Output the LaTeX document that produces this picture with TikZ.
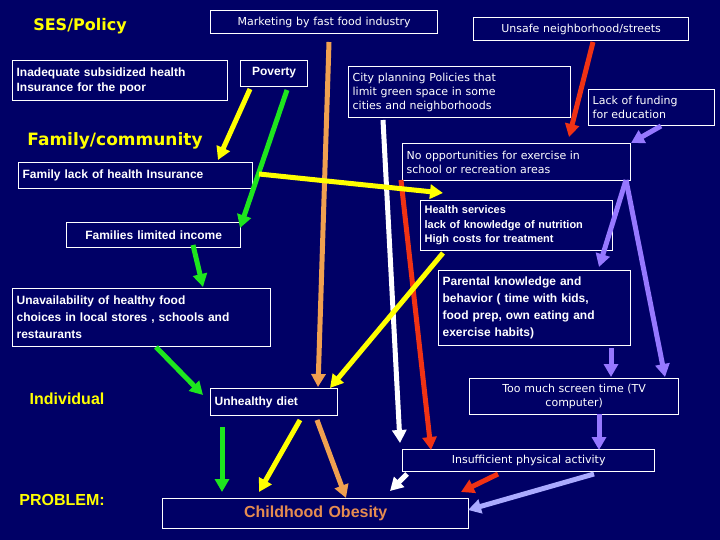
\documentclass[tikz,border=0pt]{standalone}
\usepackage{fontspec}
\setmainfont{Liberation Sans}
\newfontfamily\vfont{DejaVu Sans}
\usetikzlibrary{arrows.meta}
\definecolor{bg}{RGB}{0,0,102}
\definecolor{cyel}{RGB}{255,255,0}
\definecolor{cgrn}{RGB}{30,230,30}
\definecolor{corg}{RGB}{240,160,80}
\definecolor{cred}{RGB}{240,50,20}
\definecolor{cpur}{RGB}{150,120,255}
\definecolor{clpur}{RGB}{170,170,255}
\definecolor{ctit}{RGB}{230,140,80}
\tikzset{
 box/.style={draw=white, line width=1.3pt, text=white, anchor=north west, inner sep=4pt, align=left, font=\fontsize{12}{15}\selectfont\bfseries},
 vbox/.style={box, font=\vfont\fontsize{11}{14}\selectfont},
 lvl/.style={text=cyel, font=\bfseries\fontsize{16}{18}\selectfont},
 arr/.style={line width=5pt, -{Triangle[length=13pt,width=14pt]}},
}
\begin{document}
\begin{tikzpicture}[x=1pt,y=-1pt]
\fill[bg] (0,0) rectangle (720,540);
\useasboundingbox (0,0) rectangle (720,540);
% level labels
\node[lvl, font=\vfont\bfseries\fontsize{16}{18}\selectfont] (ses) at (80,26) {SES/Policy};
\node[lvl, font=\vfont\bfseries\fontsize{17}{19}\selectfont] (fam) at (115,141) {Family/community};
\node[lvl] (ind) at (67,399) {Individual};
\node[lvl] (prob) at (62,500) {PROBLEM:};
% boxes
\node[vbox, minimum width=227pt, minimum height=23pt, text width=219pt, align=center] (mkt) at (210,10) {Marketing by fast food industry};
\node[vbox, minimum width=215pt, minimum height=23pt, text width=207pt, align=center] (uns) at (473,17) {Unsafe neighborhood/streets};
\node[box, minimum width=215pt, minimum height=40pt, text width=207pt] (inad) at (12,60) {Inadequate subsidized health\\Insurance for the poor};
\node[box, minimum width=67pt, minimum height=26pt, text width=59pt, align=center] (pov) at (240,60) {\raisebox{4pt}{Poverty}};
\node[vbox, minimum width=222pt, minimum height=51pt, text width=214pt] (city) at (348,66) {City planning Policies that\\limit green space in some\\cities and neighborhoods};
\node[vbox, minimum width=126pt, minimum height=36pt, text width=118pt] (fund) at (588,89) {Lack of funding\\for education};
\node[vbox, minimum width=228pt, minimum height=37pt, text width=220pt] (noop) at (402,143) {\raisebox{4pt}{\parbox{220pt}{No opportunities for exercise in\\school or recreation areas}}};
\node[box, minimum width=234pt, minimum height=26pt, text width=226pt] (flack) at (18,162) {Family lack of health Insurance};
\node[box, minimum width=192pt, minimum height=50pt, text width=184pt, font=\fontsize{11}{14.5}\selectfont\bfseries] (hs) at (420,200) {Health services\\lack of knowledge of nutrition\\High costs for treatment};
\node[box, minimum width=174pt, minimum height=25pt, text width=166pt, align=center] (flim) at (66,222) {Families limited income};
\node[box, minimum width=192pt, minimum height=75pt, text width=184pt, font=\fontsize{12}{17}\selectfont\bfseries] (par) at (438,270) {Parental knowledge and\\behavior ( time with kids,\\food prep, own eating and\\exercise habits)};
\node[box, minimum width=258pt, minimum height=58pt, text width=250pt, font=\fontsize{12}{17}\selectfont\bfseries] (unav) at (12,288) {Unavailability of healthy food\\choices in local stores , schools and\\restaurants};
\node[box, minimum width=127pt, minimum height=27pt, text width=119pt] (diet) at (210,388) {Unhealthy diet};
\node[vbox, minimum width=209pt, minimum height=36pt, text width=201pt, align=center] (scr) at (469,378) {Too much screen time (TV\\computer)};
\node[vbox, minimum width=252pt, minimum height=22pt, text width=244pt, align=center] (ins) at (402,449) {Insufficient physical activity};
\node[box, minimum width=306pt, minimum height=30pt, text width=298pt, align=center, text=ctit, font=\fontsize{16}{18}\selectfont\bfseries] (obe) at (162,498) {Childhood Obesity};
% arrow endpoints
\coordinate (a1) at (250,89); \coordinate (b1) at (218,160);
\coordinate (a2) at (287,90); \coordinate (b2) at (240,228);
\coordinate (a3) at (329,42); \coordinate (b3) at (318,387);
\coordinate (a4) at (383,120); \coordinate (b4) at (400,443);
\coordinate (a5) at (593,42); \coordinate (b5) at (569,137);
\coordinate (a6) at (401,180); \coordinate (b6) at (431,450);
\coordinate (a7) at (259,174); \coordinate (b7) at (443,193);
\coordinate (a8) at (661,126); \coordinate (b8) at (631,143);
\coordinate (a9) at (626,180); \coordinate (b9) at (599,267); \coordinate (b10) at (665,377);
\coordinate (a11) at (193,245); \coordinate (b11) at (203,287);
\coordinate (a12) at (443,253); \coordinate (b12) at (330,388);
\coordinate (a13) at (156,347); \coordinate (b13) at (203,395);
\coordinate (a14) at (611,348); \coordinate (b14) at (611,377);
\coordinate (a15) at (599,414); \coordinate (b15) at (599,450);
\coordinate (a16) at (222,427); \coordinate (b16) at (222,492);
\coordinate (a17) at (300,420); \coordinate (b17) at (259,492);
\coordinate (a18) at (317,420); \coordinate (b18) at (346,498);
\coordinate (a19) at (407,474); \coordinate (b19) at (390,491);
\coordinate (a20) at (498,474); \coordinate (b20) at (461,492);
\coordinate (a21) at (594,474); \coordinate (b21) at (468,510);
\draw[arr, corg] (a3) -- (b3);
\draw[arr, white] (a4) -- (b4);
\draw[arr, cred] (a6) -- (b6);
\draw[arr, cyel] (a1) -- (b1);
\draw[arr, cgrn] (a2) -- (b2);
\draw[arr, cred] (a5) -- (b5);
\draw[arr, cyel] (a7) -- (b7);
\draw[arr, cpur] (a8) -- (b8);
\draw[arr, cpur] (a9) -- (b9);
\draw[arr, cpur] (a9) -- (b10);
\draw[arr, cgrn] (a11) -- (b11);
\draw[arr, cyel] (a12) -- (b12);
\draw[arr, cgrn] (a13) -- (b13);
\draw[arr, cpur] (a14) -- (b14);
\draw[arr, cpur] (a15) -- (b15);
\draw[arr, cgrn] (a16) -- (b16);
\draw[arr, cyel] (a17) -- (b17);
\draw[arr, corg] (a18) -- (b18);
\draw[arr, white] (a19) -- (b19);
\draw[arr, cred] (a20) -- (b20);
\draw[arr, clpur] (a21) -- (b21);
\end{tikzpicture}
\end{document}
